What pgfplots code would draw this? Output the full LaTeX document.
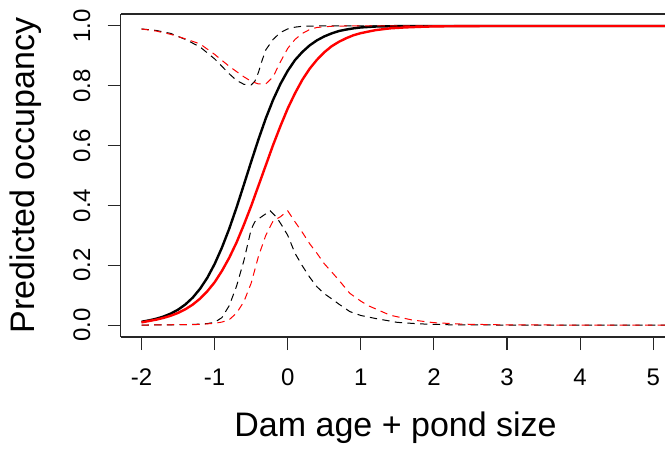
\documentclass[border=0pt]{standalone}
\usepackage{pgfplots}
\pgfplotsset{compat=1.18}
\usepackage{fontspec}
\setmainfont{Liberation Sans}
\definecolor{rred}{RGB}{255,0,0}
\begin{document}
\begin{tikzpicture}
\begin{axis}[
  scale only axis, width=408.2pt, height=242.25pt,
  at={(0,0)}, anchor=south west,
  xmin=-2.285, xmax=5.161, ymin=-0.04, ymax=1.04,
  axis x line*=box, axis y line*=left,
  tick pos=left,
  xtick={-2,-1,0,1,2,3,4,5}, xticklabels={-2,-1,0,1,2,3,4,5},
  ytick={0,0.2,0.4,0.6,0.8,1}, yticklabels={0.0,0.2,0.4,0.6,0.8,1.0},
  tick align=outside, major tick length=9.75pt,
  every tick/.style={black!85, line width=0.8pt},
  axis line style={black!85, line width=0.9pt},
  ticklabel style={font=\fontsize{18}{21}\selectfont, inner sep=0pt},
  xticklabel style={anchor=north},
  xticklabel shift=14pt,
  yticklabel style={rotate=90, anchor=south},
  yticklabel shift=12.75pt,
  xlabel={Dam age + pond size},
  xlabel style={at={(axis description cs:0.505,-0.3065)}, anchor=base, font=\fontsize{25.5}{30}\selectfont, inner sep=0pt},
  ylabel={Predicted occupancy},
  ylabel style={at={(axis description cs:-0.159,0.5)}, anchor=base, font=\fontsize{25.5}{30}\selectfont, inner sep=0pt},
]
% black solid
\addplot[black, line width=1.8pt] coordinates {
(-2,0.011) (-1.9,0.0155) (-1.8,0.021) (-1.7,0.0284) (-1.6,0.0383) (-1.5,0.0515) (-1.4,0.0689) (-1.3,0.0916) (-1.2,0.121) (-1.1,0.158)
(-1.0,0.204) (-0.9,0.259) (-0.8,0.322) (-0.7,0.393) (-0.6,0.469) (-0.5,0.546) (-0.4,0.621) (-0.3,0.691) (-0.2,0.753) (-0.1,0.806)
(0,0.850) (0.1,0.886) (0.2,0.913) (0.3,0.935) (0.4,0.952) (0.5,0.965) (0.6,0.975) (0.7,0.983) (0.8,0.988) (0.9,0.992) (1.0,0.995)
(1.2,0.998) (1.4,0.999) (1.7,1.0) (2.5,1.0) (3.5,1.0) (4.5,1.0) (5.3,1.0)
};
% black dashed upper
\addplot[black, line width=0.75pt, dash pattern=on 5.5pt off 4pt] coordinates {
(-2,0.99) (-1.8,0.985) (-1.6,0.975) (-1.4,0.955) (-1.2,0.93) (-1.0,0.89) (-0.9,0.865) (-0.8,0.84) (-0.7,0.818) (-0.6,0.805) (-0.5,0.803)
(-0.45,0.815) (-0.4,0.845) (-0.35,0.885) (-0.3,0.92) (-0.2,0.955) (-0.1,0.978) (0,0.99) (0.1,0.996) (0.2,0.999) (0.4,1.0) (1,1.0) (3,1.0) (5.3,1.0)
};
% black dashed lower
\addplot[black, line width=0.75pt, dash pattern=on 5.5pt off 4pt] coordinates {
(-2,0.0) (-1.5,0.001) (-1.2,0.003) (-1.1,0.005) (-1.0,0.009) (-0.9,0.025) (-0.8,0.065) (-0.7,0.13) (-0.6,0.215) (-0.5,0.32)
(-0.45,0.345) (-0.4,0.355) (-0.3,0.372) (-0.24,0.382) (-0.15,0.36) (-0.06,0.325) (0,0.30) (0.1,0.24) (0.2,0.198) (0.3,0.16) (0.4,0.128)
(0.5,0.105) (0.6,0.088) (0.7,0.07) (0.85,0.045) (1.0,0.032) (1.2,0.022) (1.5,0.009) (1.8,0.004) (2.2,0.001) (3,0.0) (5.3,0.0)
};
% red solid
\addplot[rred, line width=1.8pt] coordinates {
(-2,0.009) (-1.9,0.0135) (-1.8,0.018) (-1.7,0.0239) (-1.6,0.0312) (-1.5,0.0406) (-1.4,0.0528) (-1.3,0.0683) (-1.2,0.0881) (-1.1,0.113)
(-1.0,0.143) (-0.9,0.181) (-0.8,0.225) (-0.7,0.276) (-0.6,0.335) (-0.5,0.398) (-0.4,0.466) (-0.3,0.534) (-0.2,0.602) (-0.1,0.665)
(0,0.724) (0.1,0.775) (0.2,0.820) (0.3,0.857) (0.4,0.887) (0.5,0.912) (0.6,0.932) (0.7,0.947) (0.8,0.959) (0.9,0.969) (1.0,0.976)
(1.2,0.986) (1.4,0.992) (1.6,0.995) (1.8,0.997) (2.0,0.9985) (2.4,0.9995) (3,1.0) (4,1.0) (5.3,1.0)
};
% red dashed upper
\addplot[rred, line width=0.75pt, dash pattern=on 5.5pt off 4pt] coordinates {
(-2,0.99) (-1.8,0.983) (-1.6,0.972) (-1.4,0.957) (-1.2,0.94) (-1.0,0.905) (-0.8,0.865) (-0.6,0.83) (-0.5,0.815) (-0.4,0.806)
(-0.3,0.806) (-0.2,0.83) (-0.1,0.88) (0,0.925) (0.1,0.955) (0.2,0.975) (0.3,0.988) (0.4,0.995) (0.6,0.999) (0.8,1.0) (2,1.0) (5.3,1.0)
};
% red dashed lower
\addplot[rred, line width=0.75pt, dash pattern=on 5.5pt off 4pt] coordinates {
(-2,0.0) (-1.2,0.002) (-1.0,0.006) (-0.9,0.01) (-0.8,0.018) (-0.7,0.04) (-0.6,0.078) (-0.5,0.14) (-0.4,0.23) (-0.3,0.30)
(-0.2,0.348) (-0.1,0.362) (0,0.382) (0.1,0.345) (0.2,0.31) (0.3,0.272) (0.4,0.24) (0.5,0.205) (0.6,0.178) (0.7,0.15) (0.85,0.106)
(1.0,0.08) (1.1,0.065) (1.4,0.033) (1.7,0.017) (2.0,0.008) (2.4,0.003) (3.0,0.0005) (4,0.0) (5.3,0.0)
};
\end{axis}
\pgfresetboundingbox
\path (-90.5pt,-83.25pt) rectangle (408.2pt,252.75pt);
\end{tikzpicture}
\end{document}
